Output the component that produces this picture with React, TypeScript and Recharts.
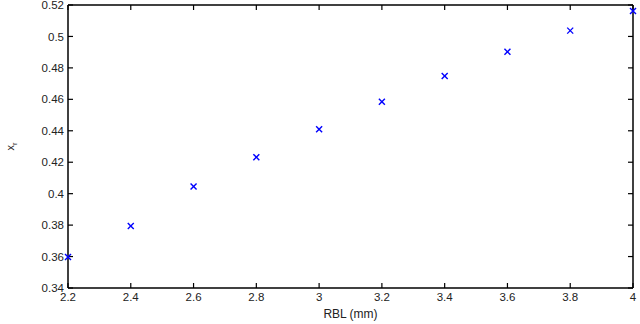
import { ScatterChart, Scatter, XAxis, YAxis } from 'recharts';

const rbl = [2.2, 2.4, 2.6, 2.8, 3, 3.2, 3.4, 3.6, 3.8, 4];
const xr = [0.3597, 0.3795, 0.4045, 0.4232, 0.441, 0.4585, 0.4748, 0.4902, 0.5037, 0.5162];
const xTicks = [2.2, 2.4, 2.6, 2.8, 3, 3.2, 3.4, 3.6, 3.8, 4];
const yTicks = [0.34, 0.36, 0.38, 0.4, 0.42, 0.44, 0.46, 0.48, 0.5, 0.52];

const points = rbl.map((x, i) => ({ x, y: xr[i] }));

const font = 'Liberation Sans, Arial, Helvetica, sans-serif';
const tickStyle = { fontSize: 11.5, fontFamily: font, fill: '#222' };
const frame = { stroke: '#000', strokeWidth: 1.5 };
const tickLine = { stroke: '#000', strokeWidth: 1.2 };

const Cross = ({ cx, cy }: any) => (
  <g stroke="#0000ff" strokeWidth={1.4}>
    <line x1={cx - 3} y1={cy - 3} x2={cx + 3} y2={cy + 3} />
    <line x1={cx - 3} y1={cy + 3} x2={cx + 3} y2={cy - 3} />
  </g>
);

// x_r, rotated like the MATLAB ylabel
const YLabel = ({ viewBox }: any) => {
  const cy = viewBox.y + viewBox.height / 2;
  return (
    <text
      x={14}
      y={cy}
      transform={`rotate(-90 14 ${cy})`}
      textAnchor="middle"
      fontSize={11}
      fontFamily={font}
      fill="#222"
    >
      x<tspan fontSize={7.5} dy={3}>r</tspan>
    </text>
  );
};

export default function App() {
  return (
    <div style={{ position: 'absolute', left: 0, top: 0, background: '#fff' }}>
      <ScatterChart
        width={640}
        height={324}
        margin={{ top: 4, right: 6, left: 8, bottom: 0 }}
      >
        <XAxis
          xAxisId="b"
          dataKey="x"
          type="number"
          domain={[2.2, 4]}
          ticks={xTicks}
          interval={0}
          height={36}
          tickSize={-5}
          tickMargin={10}
          tickLine={tickLine}
          tick={tickStyle}
          axisLine={frame}
          label={{
            value: 'RBL (mm)',
            position: 'insideBottom',
            offset: 6,
            fontSize: 12,
            fontFamily: font,
            fill: '#222',
          }}
        />
        <XAxis
          xAxisId="t"
          dataKey="x"
          orientation="top"
          type="number"
          domain={[2.2, 4]}
          allowDataOverflow
          ticks={xTicks}
          interval={0}
          height={1}
          tickSize={-5}
          tickLine={tickLine}
          tickFormatter={() => ''}
          axisLine={frame}
        />
        <YAxis
          yAxisId="l"
          dataKey="y"
          type="number"
          domain={[0.34, 0.52]}
          ticks={yTicks}
          interval={0}
          width={60}
          tickSize={-5}
          tickMargin={9}
          tickLine={tickLine}
          tick={tickStyle}
          axisLine={frame}
          label={<YLabel />}
        />
        <YAxis
          yAxisId="r"
          dataKey="y"
          orientation="right"
          type="number"
          domain={[0.34, 0.52]}
          allowDataOverflow
          ticks={yTicks}
          interval={0}
          width={1}
          tickSize={-5}
          tickLine={tickLine}
          tickFormatter={() => ''}
          axisLine={frame}
        />
        <Scatter
          xAxisId="b"
          yAxisId="l"
          data={points}
          shape={<Cross />}
          isAnimationActive={false}
        />
      </ScatterChart>
    </div>
  );
}
